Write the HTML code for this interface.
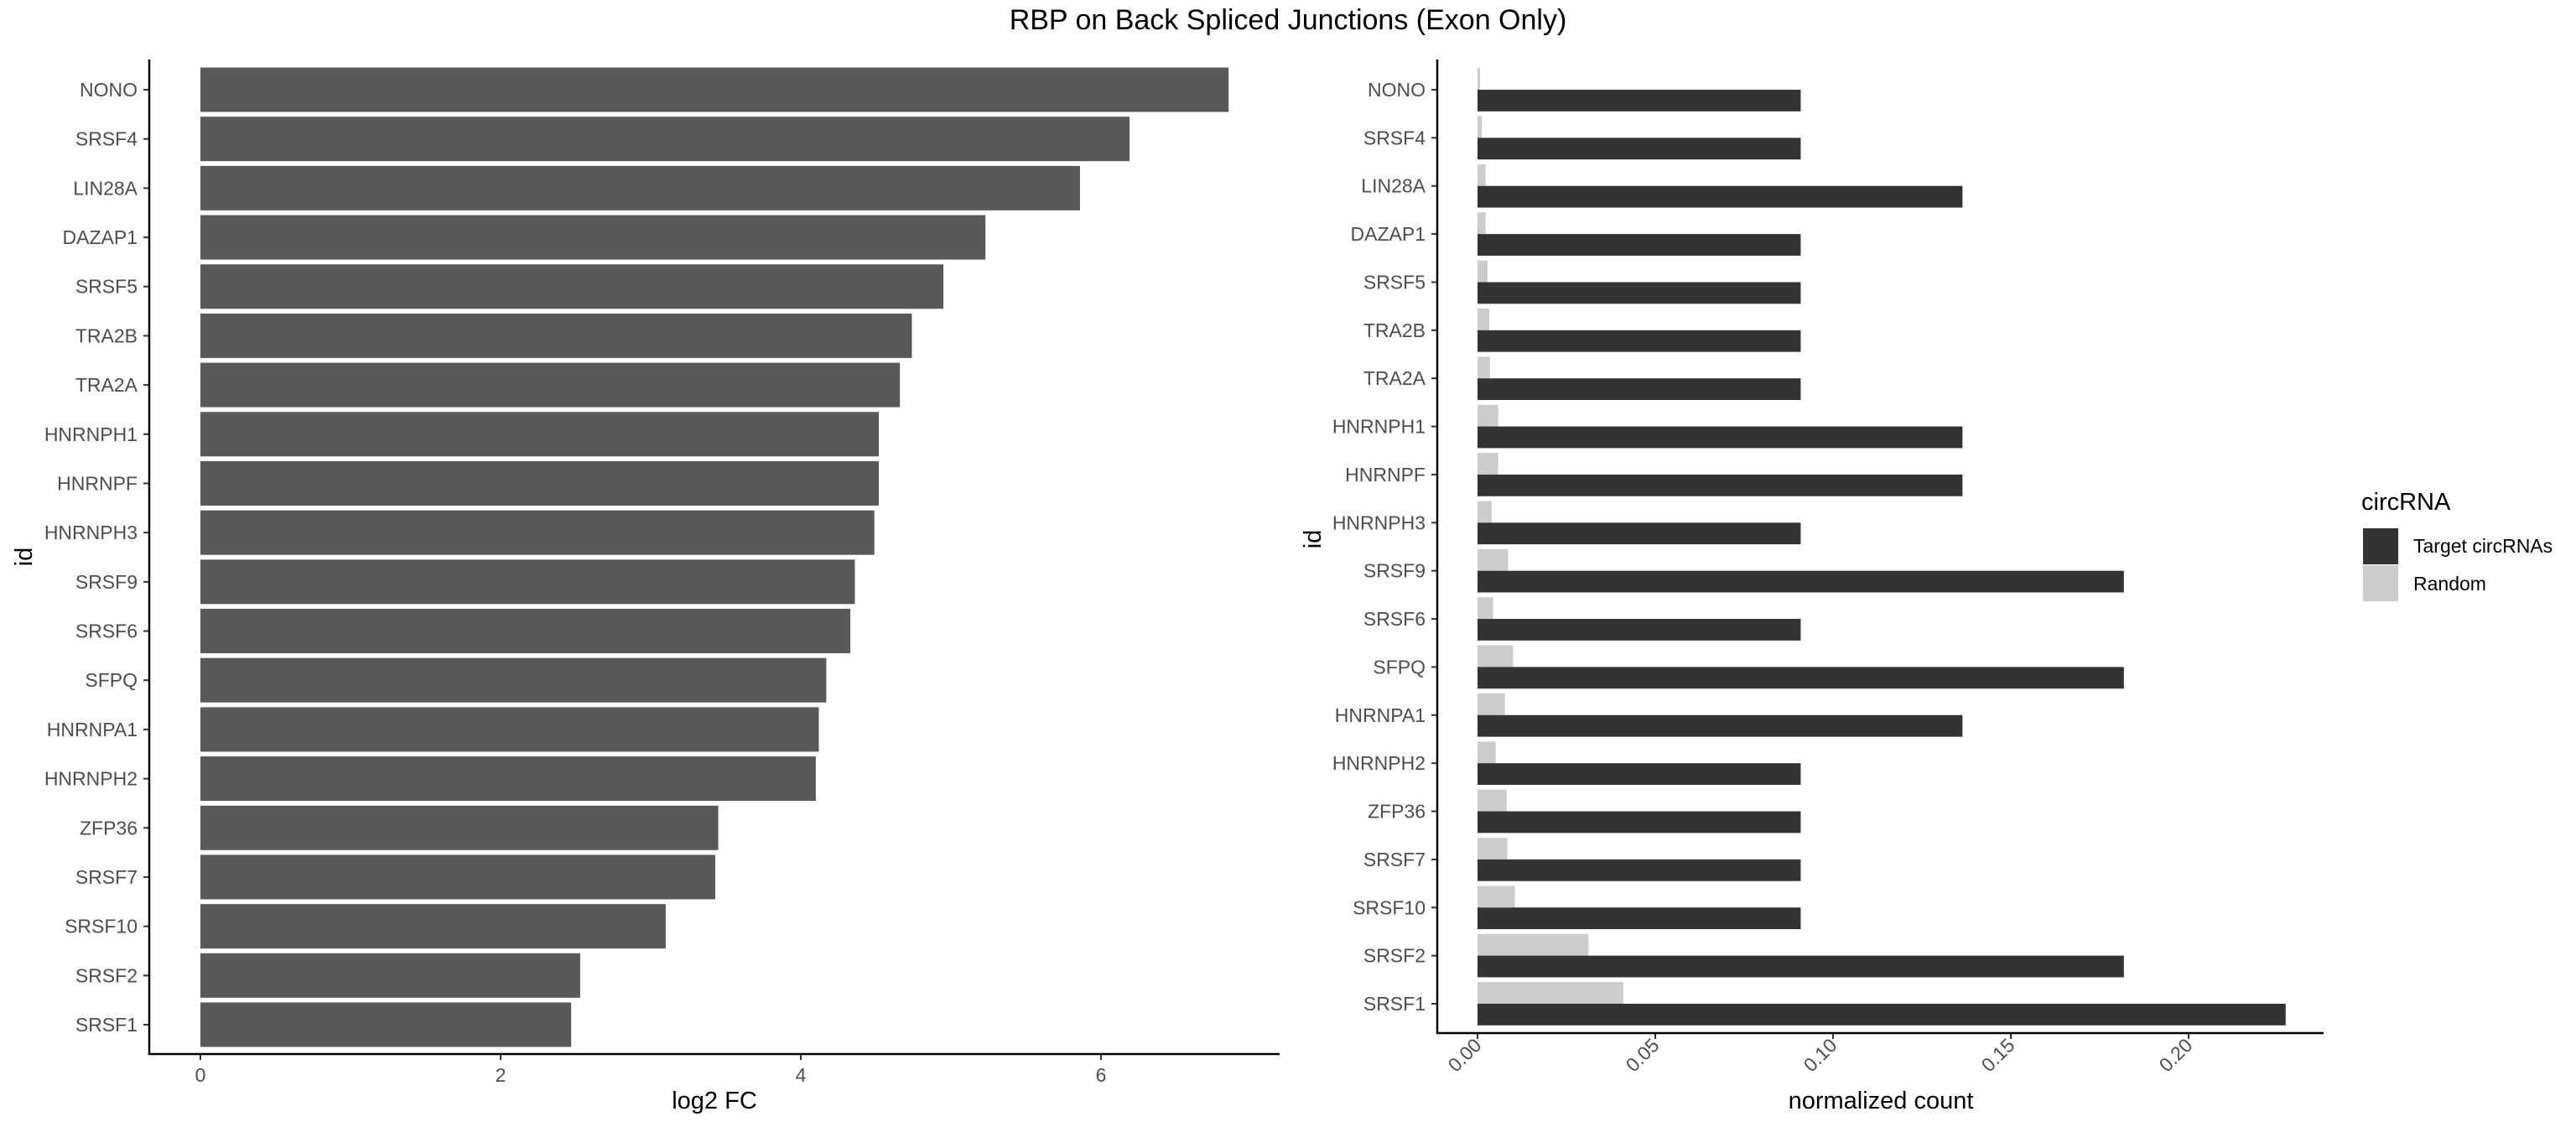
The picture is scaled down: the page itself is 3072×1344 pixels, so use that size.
<!DOCTYPE html>
<html><head><meta charset="utf-8"><style>
html,body{margin:0;padding:0;background:#fff}
svg{display:block;font-family:"Liberation Sans",sans-serif}
</style></head><body>
<svg id="chart" width="3072" height="1344" xmlns="http://www.w3.org/2000/svg">
<text x="1536" y="35" text-anchor="middle" font-size="34" fill="#000">RBP on Back Spliced Junctions (Exon Only)</text>
<g id="left"></g>
<g id="right"></g>
</svg>
<script>
const categories = ["NONO","SRSF4","LIN28A","DAZAP1","SRSF5","TRA2B","TRA2A","HNRNPH1","HNRNPF","HNRNPH3","SRSF9","SRSF6","SFPQ","HNRNPA1","HNRNPH2","ZFP36","SRSF7","SRSF10","SRSF2","SRSF1"];
const log2fc = [6.85,6.19,5.86,5.23,4.95,4.74,4.66,4.52,4.52,4.49,4.36,4.33,4.17,4.12,4.10,3.45,3.43,3.10,2.53,2.47];
const targetCounts = [0.0909,0.0909,0.1364,0.0909,0.0909,0.0909,0.0909,0.1364,0.1364,0.0909,0.1818,0.0909,0.1818,0.1364,0.0909,0.0909,0.0909,0.0909,0.1818,0.2273];
const randomCounts = [0.0007,0.0012,0.0023,0.0023,0.0028,0.0033,0.0035,0.0058,0.0058,0.0040,0.0086,0.0044,0.0100,0.0077,0.0051,0.0082,0.0084,0.0105,0.0312,0.0410];
const leftTicks = [0,2,4,6];
const rightTicks = [0,0.05,0.10,0.15,0.20];
const rightTickLabels = ["0.00","0.05","0.10","0.15","0.20"];

const NS="http://www.w3.org/2000/svg";
function mk(parent,tag,attrs,text){const e=document.createElementNS(NS,tag);for(const k in attrs)e.setAttribute(k,attrs[k]);if(text!==undefined)e.textContent=text;parent.appendChild(e);return e;}

// LEFT
const L=document.getElementById('left');
const lx=v=>239+v*179;
const ly=i=>107+i*((1222-107)/19);
const lbh=53;
categories.forEach((c,i)=>{
  const r=mk(L,'rect',{x:lx(0),y:ly(i)-lbh/2,width:lx(log2fc[i])-lx(0),height:lbh,fill:'#595959'});
  
  
  const t=mk(L,'text',{x:164,y:ly(i)+8,'text-anchor':'end','font-size':23,fill:'#4d4d4d'},c);
  
  
  mk(L,'line',{x1:171,x2:178,y1:ly(i),y2:ly(i),stroke:'#333','stroke-width':2});
});
leftTicks.forEach(v=>{
  mk(L,'line',{x1:lx(v),x2:lx(v),y1:1257,y2:1264,stroke:'#333','stroke-width':2});
  const t=mk(L,'text',{x:lx(v),y:1290,'text-anchor':'middle','font-size':23,fill:'#4d4d4d'},String(v));
  
  
});
mk(L,'line',{x1:178,x2:178,y1:71,y2:1258,stroke:'#000','stroke-width':2.5});
mk(L,'line',{x1:177,x2:1526,y1:1257,y2:1257,stroke:'#000','stroke-width':2.5});
let tt=mk(L,'text',{x:852,y:1322,'text-anchor':'middle','font-size':29,fill:'#000'},'log2 FC');


tt=mk(L,'text',{x:0,y:0,transform:'translate(38,664) rotate(-90)','text-anchor':'middle','font-size':29,fill:'#000'},'id');



// RIGHT
const R=document.getElementById('right');
const rx=v=>1762+v*4240;
const ry=i=>107+i*((1197-107)/19);
const rbh=25.8;
categories.forEach((c,i)=>{
  const a=mk(R,'rect',{x:rx(0),y:ry(i)-rbh,width:rx(randomCounts[i])-rx(0),height:rbh,fill:'#cccccc'});
  
  
  const b=mk(R,'rect',{x:rx(0),y:ry(i),width:rx(targetCounts[i])-rx(0),height:rbh,fill:'#333333'});
  
  
  const t=mk(R,'text',{x:1700,y:ry(i)+8,'text-anchor':'end','font-size':23,fill:'#4d4d4d'},c);
  
  
  mk(R,'line',{x1:1707,x2:1714,y1:ry(i),y2:ry(i),stroke:'#333','stroke-width':2});
});
rightTicks.forEach((v,k)=>{
  mk(R,'line',{x1:rx(v),x2:rx(v),y1:1232,y2:1239,stroke:'#333','stroke-width':2});
  const t=mk(R,'text',{x:0,y:0,transform:`translate(${rx(v)+6},${1248}) rotate(-45)`,'text-anchor':'end','font-size':23,fill:'#4d4d4d'},rightTickLabels[k]);
  
  
});
mk(R,'line',{x1:1714,x2:1714,y1:71,y2:1233,stroke:'#000','stroke-width':2.5});
mk(R,'line',{x1:1713,x2:2771,y1:1232,y2:1232,stroke:'#000','stroke-width':2.5});
tt=mk(R,'text',{x:2243,y:1322,'text-anchor':'middle','font-size':29,fill:'#000'},'normalized count');


tt=mk(R,'text',{x:0,y:0,transform:'translate(1575,643) rotate(-90)','text-anchor':'middle','font-size':29,fill:'#000'},'id');



// legend
const G=mk(R,'g',{});


tt=mk(G,'text',{x:2816,y:608,'font-size':29,fill:'#000'},'circRNA');


const k1=mk(G,'rect',{x:2818,y:630,width:42,height:43,fill:'#333333'});


const k2=mk(G,'rect',{x:2818,y:674,width:42,height:43,fill:'#cccccc'});


tt=mk(G,'text',{x:2878,y:659,'font-size':23,fill:'#000'},'Target circRNAs');


tt=mk(G,'text',{x:2878,y:704,'font-size':23,fill:'#000'},'Random');


</script>
</body></html>
